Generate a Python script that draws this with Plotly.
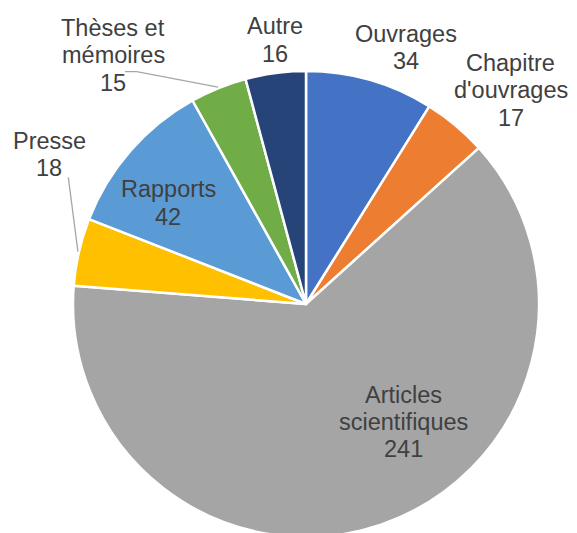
import math
import plotly.graph_objects as go

# ---- data ----
labels = ["Ouvrages", "Chapitre d'ouvrages", "Articles scientifiques", "Presse",
          "Rapports", "Thèses et mémoires", "Autre"]
values = [34, 17, 241, 18, 42, 15, 16]
label_lines = [["Ouvrages"], ["Chapitre", "d'ouvrages"], ["Articles", "scientifiques"],
               ["Presse"], ["Rapports"], ["Thèses et", "mémoires"], ["Autre"]]
colors = ["#4472C4", "#ED7D31", "#A5A5A5", "#FFC000", "#5B9BD5", "#70AD47", "#264478"]

# ---- layout / style (pixels, screen coordinates) ----
W, H = 577, 533
OFF = 8                      # page body margin
CX, CY, R = 306, 304, 233
FONT = "Arial, Liberation Sans, sans-serif"
FSIZE = 23.5
LINE_H = 27.3
TEXT_COLOR = "#404040"
# centre of first text line for each label (x, y in screen px)
label_pos = [(406.5, 34), (510.5, 63.5), (403, 395), (49, 141),
             (168, 190), (113, 28.5), (275, 27)]
# leader line start points (px); end point comes from slice mid-angle
leaders = {3: [(68.3, 177.3)], 5: [(125, 71.7), (136.7, 71.7)]}


def px(x):
    return (x - OFF) / W


def py(y):
    return 1 - (y - OFF) / H


fig = go.Figure(go.Pie(
    labels=labels, values=values, sort=False, direction="clockwise", rotation=0,
    marker=dict(colors=colors, line=dict(color="white", width=2.5)),
    textinfo="none", hoverinfo="label+value", showlegend=False,
    domain=dict(x=[px(CX - R), px(CX + R)], y=[py(CY + R), py(CY - R)]),
))

annotations = []
for i, (lines, v) in enumerate(zip(label_lines, values)):
    x0, y0 = label_pos[i]
    for k, t in enumerate(lines + [str(v)]):
        annotations.append(dict(
            x=px(x0), y=py(y0 + k * LINE_H - 0.5), xref="paper", yref="paper",
            text=t, showarrow=False, xanchor="center", yanchor="middle",
            font=dict(family=FONT, size=FSIZE, color=TEXT_COLOR)))

shapes = []
total = sum(values)
cum = 0
mids = []
for v in values:
    mids.append((cum + v / 2) / total * 2 * math.pi)
    cum += v
for i, pts in leaders.items():
    a = mids[i]
    ex, ey = CX + (R + 1) * math.sin(a), CY - (R + 1) * math.cos(a)
    allp = pts + [(ex, ey)]
    path = "M " + " L ".join(f"{px(x):.5f},{py(y):.5f}" for x, y in allp)
    shapes.append(dict(type="path", path=path, xref="paper", yref="paper",
                       line=dict(color="#A6A6A6", width=1.3)))

fig.update_layout(width=W, height=H, margin=dict(l=0, r=0, t=0, b=0),
                  paper_bgcolor="white", plot_bgcolor="white",
                  annotations=annotations, shapes=shapes)
fig.write_html("out.html")
